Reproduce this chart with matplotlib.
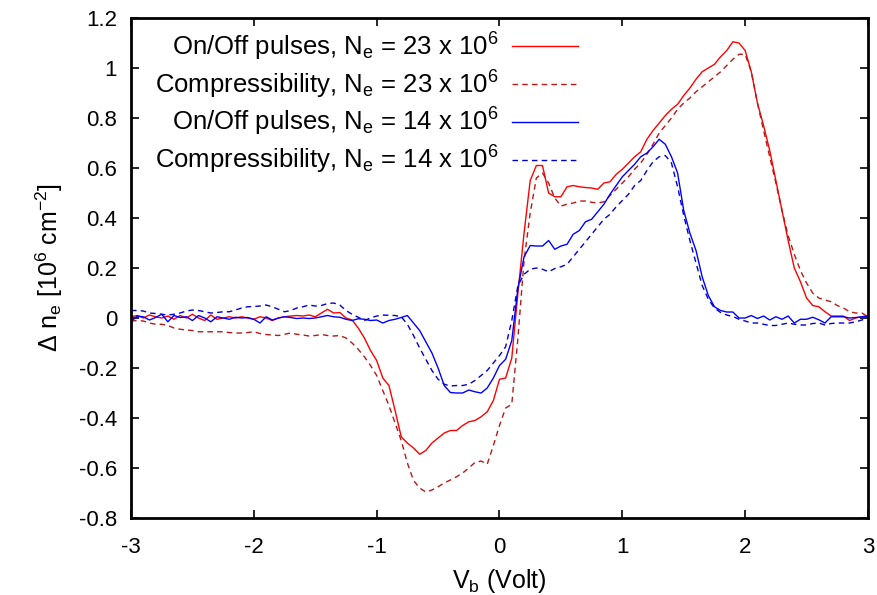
import numpy as np
import matplotlib
matplotlib.use('Agg')
import matplotlib.pyplot as plt

plt.rcParams['font.family'] = ['Liberation Sans', 'DejaVu Sans']
plt.rcParams['mathtext.default'] = 'regular'

# bias voltage grid (Volt), 0.05 V steps
vb = np.linspace(-3, 3, 121)

# On/Off pulses, Ne = 23 x 10^6
onoff_23 = [
    0.005, 0.01, 0.0, 0.012, 0.005, 0.0, 0.008, -0.005, 0.01, 0.0,
    0.015, 0.0, -0.01, 0.012, -0.005, 0.0, 0.005, 0.0, 0.005, 0.0,
    -0.005, 0.005, 0.0, -0.01, 0.0, 0.005, 0.008, 0.01, 0.008, 0.012,
    0.005, 0.02, 0.035, 0.02, 0.022, 0.0, -0.008, -0.04, -0.08, -0.13,
    -0.17, -0.24, -0.27, -0.37, -0.475, -0.5, -0.52, -0.545, -0.53, -0.5,
    -0.48, -0.46, -0.45, -0.45, -0.43, -0.415, -0.41, -0.395, -0.375, -0.33,
    -0.245, -0.24, -0.16, 0.10, 0.34, 0.55, 0.61, 0.61, 0.50, 0.485,
    0.485, 0.525, 0.53, 0.525, 0.522, 0.52, 0.515, 0.54, 0.545, 0.575,
    0.595, 0.62, 0.645, 0.665, 0.715, 0.75, 0.78, 0.81, 0.835, 0.855,
    0.89, 0.92, 0.955, 0.985, 1.0, 1.015, 1.045, 1.07, 1.105, 1.10,
    1.07, 0.985, 0.86, 0.77, 0.67, 0.55, 0.43, 0.31, 0.20, 0.145,
    0.08, 0.05, 0.045, 0.025, 0.008, 0.008, 0.008, -0.01, 0.0, 0.005,
    0.008]

# Compressibility, Ne = 23 x 10^6
comp_23 = [
    -0.012, -0.01, -0.012, -0.02, -0.025, -0.025, -0.03, -0.04, -0.045, -0.048,
    -0.05, -0.055, -0.055, -0.055, -0.055, -0.055, -0.058, -0.06, -0.06, -0.058,
    -0.055, -0.062, -0.066, -0.068, -0.07, -0.065, -0.06, -0.065, -0.068, -0.072,
    -0.07, -0.066, -0.07, -0.072, -0.07, -0.08, -0.1, -0.125, -0.155, -0.19,
    -0.23, -0.29, -0.35, -0.42, -0.49, -0.58, -0.65, -0.68, -0.696, -0.688,
    -0.675, -0.66, -0.648, -0.635, -0.62, -0.6, -0.578, -0.572, -0.585, -0.51,
    -0.43, -0.36, -0.345, -0.08, 0.23, 0.42, 0.56, 0.58, 0.54, 0.48,
    0.448, 0.455, 0.46, 0.468, 0.468, 0.463, 0.46, 0.465, 0.49, 0.515,
    0.54, 0.565, 0.595, 0.62, 0.655, 0.695, 0.74, 0.77, 0.80, 0.835,
    0.86, 0.88, 0.905, 0.925, 0.945, 0.965, 0.985, 1.01, 1.035, 1.055,
    1.055, 0.985, 0.86, 0.75, 0.645, 0.54, 0.43, 0.33, 0.255, 0.19,
    0.14, 0.1, 0.08, 0.072, 0.065, 0.05, 0.04, 0.025, 0.02, 0.02,
    0.005]

# On/Off pulses, Ne = 14 x 10^6
onoff_14 = [
    -0.015, 0.008, 0.005, -0.008, 0.002, 0.015, -0.015, 0.01, 0.002, 0.005,
    -0.01, 0.01, 0.0, -0.015, 0.005, 0.0, -0.005, 0.003, 0.0, 0.002,
    -0.005, -0.02, 0.005, -0.008, 0.0, 0.005, 0.002, -0.002, 0.0, -0.002,
    0.0, 0.005, 0.01, 0.005, 0.003, -0.005, -0.01, -0.003, -0.005, -0.01,
    -0.008, -0.02, -0.01, -0.005, 0.002, 0.01, -0.02, -0.05, -0.095, -0.14,
    -0.2, -0.27, -0.298, -0.3, -0.3, -0.288, -0.295, -0.3, -0.28, -0.24,
    -0.19, -0.165, -0.09, 0.12, 0.245, 0.29, 0.288, 0.288, 0.31, 0.275,
    0.288, 0.295, 0.335, 0.35, 0.385, 0.395, 0.425, 0.455, 0.495, 0.53,
    0.565, 0.59, 0.615, 0.645, 0.66, 0.685, 0.715, 0.695, 0.645, 0.58,
    0.43, 0.34, 0.27, 0.165, 0.09, 0.045, 0.03, 0.024, 0.024, 0.0,
    0.0, 0.01, -0.002, 0.008, -0.008, 0.005, -0.005, 0.008, -0.02, -0.005,
    -0.005, 0.003, -0.007, -0.02, 0.005, 0.005, 0.005, 0.0, 0.002, 0.005,
    0.008]

# Compressibility, Ne = 14 x 10^6
comp_14 = [
    0.03, 0.03, 0.028, 0.02, 0.018, 0.015, 0.012, 0.015, 0.02, 0.028,
    0.032, 0.03, 0.025, 0.02, 0.022, 0.025, 0.025, 0.032, 0.04, 0.045,
    0.046, 0.048, 0.052, 0.045, 0.035, 0.025, 0.03, 0.04, 0.045, 0.052,
    0.048, 0.05, 0.058, 0.06, 0.052, 0.03, 0.015, 0.003, -0.01, 0.0,
    0.008, 0.012, 0.011, 0.01, 0.005, -0.025, -0.07, -0.12, -0.165, -0.21,
    -0.245, -0.265, -0.272, -0.27, -0.27, -0.265, -0.25, -0.23, -0.21, -0.18,
    -0.15, -0.115, -0.01, 0.13, 0.175, 0.195, 0.2, 0.195, 0.185, 0.198,
    0.205, 0.215, 0.245, 0.275, 0.305, 0.335, 0.365, 0.395, 0.415, 0.445,
    0.47, 0.495, 0.53, 0.55, 0.59, 0.625, 0.645, 0.65, 0.62, 0.525,
    0.41, 0.31, 0.22, 0.13, 0.075, 0.04, 0.022, 0.012, 0.006, -0.005,
    -0.012, -0.02, -0.02, -0.025, -0.03, -0.03, -0.025, -0.02, -0.025, -0.028,
    -0.028, -0.022, -0.02, -0.028, -0.022, -0.02, -0.02, -0.02, -0.015, -0.008,
    0.0]

labels = [
    r'On/Off pulses, N$_e$ = 23 x 10$^6$',
    r'Compressibility, N$_e$ = 23 x 10$^6$',
    r'On/Off pulses, N$_e$ = 14 x 10$^6$',
    r'Compressibility, N$_e$ = 14 x 10$^6$',
]

fig = plt.figure(figsize=(8.78, 5.95), dpi=100)
ax = fig.add_axes([0.1492, 0.1294, 0.8394, 0.8403])

ax.plot(vb, onoff_23, color='#ff0000', lw=1.0, label=labels[0])
ax.plot(vb, comp_23, color='#b81818', lw=1.0, dashes=(4, 3), label=labels[1])
ax.plot(vb, onoff_14, color='#0000ff', lw=1.0, label=labels[2])
ax.plot(vb, comp_14, color='#0000d0', lw=1.0, dashes=(4, 3), label=labels[3])

ax.set_xlim(-3, 3)
ax.set_ylim(-0.8, 1.2)
ax.set_xticks(np.arange(-3, 4, 1))
ax.set_yticks(np.arange(-0.8, 1.21, 0.2))
ax.set_xticklabels(['-3', '-2', '-1', '0', '1', '2', '3'])
ax.set_yticklabels(['-0.8', '-0.6', '-0.4', '-0.2', '0', '0.2', '0.4',
                    '0.6', '0.8', '1', '1.2'])
ax.tick_params(direction='in', length=6, width=1.2, top=True, right=True,
               labelsize=16)
ax.tick_params(axis='x', pad=14)
ax.tick_params(axis='y', pad=10)
for s in ax.spines.values():
    s.set_linewidth(2)

ax.set_xlabel(r'V$_b$ (Volt)', fontsize=18, labelpad=6)
ax.set_ylabel(r'$\Delta$ n$_e$ [10$^6$ cm$^{-2}$]', fontsize=18, labelpad=10)

ax.legend(loc='upper right', bbox_to_anchor=(0.607, 0.975), frameon=False,
          markerfirst=False, alignment='right', fontsize=18.5,
          handlelength=2.6, handletextpad=0.5, labelspacing=0.22,
          borderaxespad=0.0, borderpad=0.0)

fig.savefig('out.png', dpi=100)
